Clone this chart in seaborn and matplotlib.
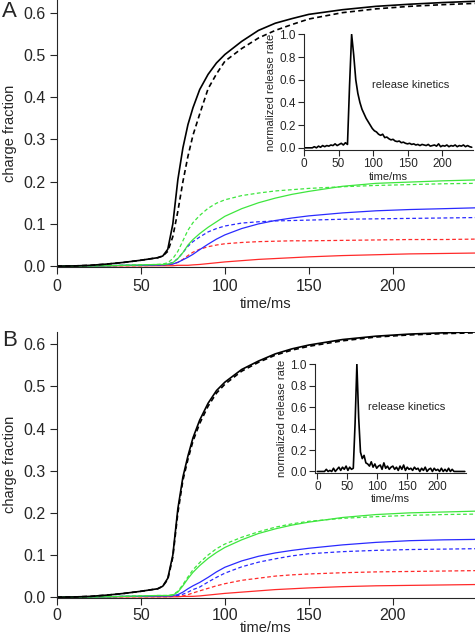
import matplotlib
matplotlib.use("Agg")
import matplotlib.pyplot as plt
import numpy as np
import seaborn as sns

sns.set_style("ticks")
plt.rcParams["font.family"] = ["Liberation Sans", "DejaVu Sans"]

# time grid (ms) for the charge-fraction curves
t_main = [0, 10, 20, 30, 40, 50, 60, 63, 66, 69, 72, 75, 78, 81, 85, 90, 95, 100,
          110, 120, 130, 140, 150, 170, 190, 210, 230, 249]

# panel A
a_black = [0.0, 0.0005, 0.002, 0.005, 0.009, 0.014, 0.020, 0.024, 0.040, 0.10, 0.205, 0.28, 0.335, 0.375,
           0.418, 0.454, 0.481, 0.501, 0.532, 0.558, 0.575, 0.586, 0.596, 0.607, 0.615, 0.620, 0.624, 0.627]
a_black_d = [0.0, 0.0005, 0.002, 0.005, 0.009, 0.014, 0.020, 0.024, 0.035, 0.07, 0.13, 0.20, 0.26, 0.31,
             0.36, 0.42, 0.455, 0.485, 0.515, 0.54, 0.558, 0.572, 0.585, 0.600, 0.609, 0.615, 0.619, 0.622]
a_green = [0.0, 0.0, 0.0005, 0.001, 0.002, 0.003, 0.004, 0.004, 0.005, 0.008, 0.018, 0.032, 0.050, 0.063,
           0.077, 0.092, 0.105, 0.118, 0.136, 0.150, 0.161, 0.170, 0.177, 0.189, 0.196, 0.199, 0.202, 0.204]
a_green_d = [0.0, 0.0, 0.0005, 0.001, 0.002, 0.003, 0.004, 0.005, 0.008, 0.018, 0.035, 0.060, 0.085, 0.103,
             0.120, 0.137, 0.149, 0.157, 0.167, 0.173, 0.178, 0.181, 0.184, 0.188, 0.191, 0.193, 0.195, 0.196]
a_blue = [0.0, 0.0, 0.0005, 0.001, 0.002, 0.002, 0.003, 0.003, 0.004, 0.005, 0.009, 0.015, 0.021, 0.028,
          0.039, 0.052, 0.064, 0.074, 0.089, 0.100, 0.108, 0.114, 0.119, 0.126, 0.131, 0.134, 0.136, 0.138]
a_blue_d = [0.0, 0.0, 0.0005, 0.001, 0.002, 0.002, 0.003, 0.003, 0.005, 0.009, 0.018, 0.032, 0.047, 0.058,
            0.069, 0.081, 0.089, 0.095, 0.102, 0.105, 0.107, 0.108, 0.109, 0.111, 0.112, 0.113, 0.114, 0.115]
a_red = [0.0, 0.0, 0.0, 0.0005, 0.001, 0.001, 0.001, 0.001, 0.001, 0.001, 0.002, 0.002, 0.002, 0.003,
         0.004, 0.006, 0.008, 0.010, 0.013, 0.016, 0.018, 0.020, 0.022, 0.025, 0.027, 0.029, 0.030, 0.031]
a_red_d = [0.0, 0.0, 0.0, 0.0005, 0.001, 0.001, 0.002, 0.002, 0.003, 0.005, 0.009, 0.016, 0.025, 0.033,
           0.040, 0.046, 0.050, 0.053, 0.056, 0.058, 0.059, 0.060, 0.060, 0.061, 0.062, 0.063, 0.063, 0.064]

# panel B
b_black = [0.0, 0.0005, 0.002, 0.005, 0.009, 0.014, 0.020, 0.026, 0.045, 0.10, 0.21, 0.285, 0.335, 0.378,
           0.42, 0.46, 0.49, 0.51, 0.54, 0.56, 0.577, 0.589, 0.598, 0.611, 0.619, 0.624, 0.627, 0.629]
b_black_d = [0.0, 0.0005, 0.002, 0.005, 0.009, 0.014, 0.020, 0.026, 0.042, 0.095, 0.20, 0.277, 0.327, 0.37,
             0.412, 0.453, 0.484, 0.505, 0.536, 0.557, 0.574, 0.586, 0.595, 0.608, 0.617, 0.622, 0.625, 0.627]
b_green = [0.0, 0.0, 0.0005, 0.001, 0.002, 0.003, 0.004, 0.004, 0.004, 0.005, 0.012, 0.027, 0.044, 0.059,
           0.075, 0.092, 0.106, 0.118, 0.136, 0.151, 0.162, 0.171, 0.178, 0.189, 0.196, 0.200, 0.202, 0.204]
b_green_d = [0.0, 0.0, 0.0005, 0.001, 0.002, 0.003, 0.004, 0.004, 0.004, 0.006, 0.014, 0.030, 0.048, 0.065,
             0.082, 0.100, 0.115, 0.126, 0.142, 0.155, 0.166, 0.174, 0.180, 0.187, 0.191, 0.194, 0.196, 0.197]
b_blue = [0.0, 0.0, 0.0005, 0.001, 0.002, 0.002, 0.003, 0.003, 0.003, 0.004, 0.006, 0.012, 0.020, 0.027,
          0.035, 0.047, 0.060, 0.071, 0.086, 0.097, 0.105, 0.111, 0.116, 0.124, 0.130, 0.134, 0.136, 0.137]
b_blue_d = [0.0, 0.0, 0.0005, 0.001, 0.002, 0.002, 0.003, 0.003, 0.003, 0.003, 0.004, 0.007, 0.012, 0.018,
            0.024, 0.036, 0.047, 0.057, 0.072, 0.083, 0.091, 0.098, 0.103, 0.108, 0.111, 0.113, 0.114, 0.115]
b_red = [0.0, 0.0, 0.0, 0.0005, 0.001, 0.001, 0.001, 0.001, 0.001, 0.001, 0.001, 0.002, 0.002, 0.002,
         0.003, 0.005, 0.007, 0.009, 0.012, 0.015, 0.018, 0.020, 0.022, 0.025, 0.027, 0.028, 0.029, 0.030]
b_red_d = [0.0, 0.0, 0.0, 0.0005, 0.001, 0.001, 0.001, 0.001, 0.001, 0.002, 0.002, 0.003, 0.006, 0.010,
           0.015, 0.021, 0.027, 0.032, 0.040, 0.045, 0.050, 0.053, 0.055, 0.058, 0.060, 0.061, 0.062, 0.063]

# release kinetics insets (normalized rate, 3 ms steps)
a_rate = [0.0, 0.0, 0.0, 0.0, 0.0, 0.01, 0.0, 0.015, 0.005, 0.02, 0.01, 0.02, 0.015, 0.025, 0.02,
          0.035, 0.02, 0.03, 0.04, 0.025, 0.045, 0.03, 0.55, 1.0, 0.82, 0.6, 0.48, 0.4, 0.34, 0.3,
          0.26, 0.23, 0.2, 0.17, 0.15, 0.14, 0.12, 0.11, 0.12, 0.09, 0.095, 0.08, 0.07, 0.075, 0.06,
          0.055, 0.06, 0.045, 0.05, 0.04, 0.035, 0.04, 0.03, 0.035, 0.025, 0.03, 0.02, 0.03, 0.025,
          0.02, 0.03, 0.015, 0.02, 0.025, 0.015, 0.035, 0.01, 0.02, 0.015, 0.025, 0.01, 0.02, 0.015,
          0.025, 0.01, 0.02, 0.015, 0.025, 0.01, 0.02, 0.01, 0.005]
b_rate = [0.0, 0.0, 0.0, 0.0, 0.0, 0.02, 0.0, 0.01, 0.0, 0.03, 0.0, 0.02, 0.04, 0.01, 0.04, 0.02,
          0.05, 0.01, 0.04, 0.02, 0.03, 0.45, 1.0, 0.5, 0.18, 0.12, 0.15, 0.08, 0.07, 0.05, 0.09,
          0.04, 0.07, 0.03, 0.05, 0.06, 0.02, 0.08, 0.03, 0.05, 0.02, 0.04, 0.05, 0.02, 0.04, 0.01,
          0.05, 0.02, 0.06, 0.01, 0.04, 0.02, 0.03, 0.01, 0.04, 0.02, 0.03, 0.0, 0.03, 0.01, 0.04,
          0.0, 0.02, 0.03, 0.0, 0.03, 0.01, 0.02, 0.0, 0.03, 0.0, 0.02, 0.0, 0.03, 0.0, 0.02, 0.0,
          0.0, 0.0, 0.0, 0.0, 0.0, 0.0]
t_rate_a = np.arange(len(a_rate)) * 3
t_rate_b = np.arange(len(b_rate)) * 3

GREEN, BLUE, RED = "#3ee63e", "#2a2aff", "#ff2a2a"


def draw_main(ax, curves, xpad, xlabelpad):
    for y, color, dashed, lw in curves:
        sns.lineplot(x=t_main, y=y, ax=ax, color=color, lw=lw, sort=False, estimator=None)
        if dashed:
            ax.lines[-1].set_dashes((3, 2))
    ax.set_xlim(0, 249)
    ax.set_ylim(-0.002, 0.63)
    ax.set_xticks([0, 50, 100, 150, 200])
    ax.set_yticks([0.0, 0.1, 0.2, 0.3, 0.4, 0.5, 0.6])
    ax.set_yticklabels([f"{v:.1f}" for v in ax.get_yticks()])
    ax.tick_params(direction="out", length=5, width=0.8, labelsize=11.5, pad=3)
    ax.tick_params(axis="x", pad=xpad)
    ax.set_xlabel("time/ms", fontsize=10.5, labelpad=xlabelpad)
    ax.set_ylabel("charge fraction", fontsize=10.5, labelpad=5)
    sns.despine(ax=ax)


def draw_inset(ax, t, rate, xlim, ylim):
    sns.lineplot(x=t, y=rate, ax=ax, color="black", lw=1.2, estimator=None)
    ax.set_xlim(*xlim)
    ax.set_ylim(*ylim)
    ax.set_xticks([0, 50, 100, 150, 200])
    ax.set_yticks([0.0, 0.2, 0.4, 0.6, 0.8, 1.0])
    ax.set_yticklabels([f"{v:.1f}" for v in ax.get_yticks()])
    ax.tick_params(direction="out", length=4, width=0.8, labelsize=8.5, pad=2)
    ax.set_xlabel("time/ms", fontsize=8, labelpad=1)
    ax.set_ylabel("normalized release rate", fontsize=8, labelpad=2)
    ax.patch.set_alpha(0)
    sns.despine(ax=ax)


fig = plt.figure(figsize=(4.75, 6.36), dpi=100)
ax_a = fig.add_axes([0.12, 0.5802, 0.88, 0.4198])
ax_b = fig.add_axes([0.12, 0.0597, 0.88, 0.419])

draw_main(ax_a, [(a_red, RED, False, 0.9), (a_red_d, RED, True, 0.9),
                 (a_blue, BLUE, False, 0.9), (a_blue_d, BLUE, True, 0.9),
                 (a_green, GREEN, False, 0.9), (a_green_d, GREEN, True, 0.9),
                 (a_black, "black", False, 1.2), (a_black_d, "black", True, 1.2)],
          xpad=4, xlabelpad=2)
draw_main(ax_b, [(b_red, RED, False, 0.9), (b_red_d, RED, True, 0.9),
                 (b_blue, BLUE, False, 0.9), (b_blue_d, BLUE, True, 0.9),
                 (b_green, GREEN, False, 0.9), (b_green_d, GREEN, True, 0.9),
                 (b_black, "black", False, 1.2), (b_black_d, "black", True, 1.2)],
          xpad=2, xlabelpad=-1)

in_a = fig.add_axes([0.64, 0.764, 0.356, 0.182])
draw_inset(in_a, t_rate_a, a_rate, (0, 245), (-0.02, 1.0))
in_a.text(0.63, 0.56, "release kinetics", transform=in_a.transAxes, fontsize=8,
          ha="center", va="center")

in_b = fig.add_axes([0.663, 0.257, 0.318, 0.1705])
draw_inset(in_b, t_rate_b, b_rate, (-4, 248), (-0.01, 1.0))
in_b.text(0.61, 0.60, "release kinetics", transform=in_b.transAxes, fontsize=8,
          ha="center", va="center")

fig.text(0.004, 0.999, "A", fontsize=16, ha="left", va="top")
fig.text(0.004, 0.481, "B", fontsize=16, ha="left", va="top")

fig.savefig("out.png", dpi=100)
